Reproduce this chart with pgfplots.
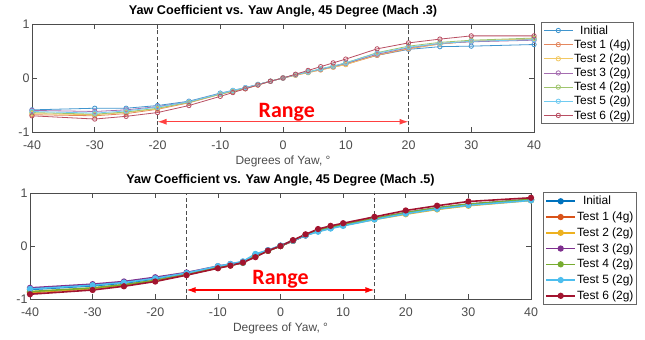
\documentclass[border=0pt]{standalone}
\usepackage{pgfplots}
\usepackage{pgfplotstable}
\pgfplotsset{compat=1.18}
\usetikzlibrary{arrows.meta}
\usepackage{fontspec}
\setmainfont{Liberation Sans}
\newfontfamily\rangefont{Carlito}
\definecolor{c1}{rgb}{0,0.447,0.741}
\definecolor{c2}{rgb}{0.85,0.325,0.098}
\definecolor{c3}{rgb}{0.929,0.694,0.125}
\definecolor{c4}{rgb}{0.494,0.184,0.556}
\definecolor{c5}{rgb}{0.466,0.674,0.188}
\definecolor{c6}{rgb}{0.301,0.745,0.933}
\definecolor{c7}{rgb}{0.635,0.078,0.184}
\definecolor{axgray}{rgb}{0.3,0.3,0.3}

% Mach .3
\pgfplotstableread{
x    i     ta    tb    tc    td    te    tf
-40 -0.59 -0.68 -0.66 -0.60 -0.64 -0.62 -0.70
-30 -0.56 -0.70 -0.68 -0.62 -0.67 -0.65 -0.76
-25 -0.56 -0.66 -0.64 -0.59 -0.63 -0.61 -0.71
-20 -0.51 -0.58 -0.57 -0.53 -0.56 -0.54 -0.64
-15 -0.43 -0.46 -0.45 -0.44 -0.45 -0.44 -0.51
-10 -0.28 -0.30 -0.30 -0.29 -0.30 -0.29 -0.34
-8  -0.23 -0.25 -0.24 -0.24 -0.24 -0.23 -0.27
-6  -0.18 -0.20 -0.19 -0.18 -0.19 -0.18 -0.20
-4  -0.12 -0.13 -0.13 -0.12 -0.12 -0.12 -0.13
-2  -0.06 -0.06 -0.06 -0.06 -0.06 -0.06 -0.06
0    0.00  0.00  0.00  0.00  0.00  0.00  0.00
2    0.06  0.05  0.05  0.06  0.06  0.06  0.07
4    0.11  0.10  0.10  0.11  0.11  0.11  0.14
6    0.16  0.15  0.15  0.16  0.17  0.17  0.21
8    0.21  0.20  0.20  0.21  0.22  0.22  0.28
10   0.27  0.25  0.25  0.27  0.28  0.28  0.35
15   0.42  0.42  0.43  0.44  0.47  0.46  0.54
20   0.53  0.54  0.55  0.56  0.59  0.57  0.65
25   0.58  0.63  0.63  0.64  0.66  0.64  0.72
30   0.59  0.68  0.68  0.67  0.70  0.68  0.78
40   0.62  0.72  0.73  0.70  0.74  0.71  0.78
}\machA

% Mach .5
\pgfplotstableread{
x    i     ta    tb    tc    td    te    tf
-40 -0.82 -0.88 -0.87 -0.79 -0.86 -0.81 -0.91
-30 -0.75 -0.80 -0.80 -0.72 -0.79 -0.74 -0.83
-25 -0.70 -0.74 -0.74 -0.67 -0.73 -0.69 -0.76
-20 -0.62 -0.66 -0.65 -0.59 -0.65 -0.61 -0.67
-15 -0.52 -0.54 -0.54 -0.50 -0.54 -0.51 -0.55
-10 -0.40 -0.41 -0.41 -0.38 -0.41 -0.38 -0.42
-8  -0.36 -0.37 -0.36 -0.34 -0.36 -0.34 -0.37
-6  -0.32 -0.31 -0.31 -0.30 -0.31 -0.29 -0.31
-4  -0.16 -0.19 -0.18 -0.17 -0.19 -0.15 -0.21
-2  -0.09 -0.09 -0.09 -0.08 -0.09 -0.08 -0.09
0    0.00  0.00  0.00  0.00  0.00  0.01  0.00
2    0.10  0.10  0.10  0.10  0.10  0.10  0.11
4    0.20  0.21  0.20  0.20  0.21  0.20  0.22
6    0.28  0.29  0.28  0.29  0.29  0.27  0.32
8    0.34  0.35  0.34  0.35  0.35  0.33  0.38
10   0.39  0.40  0.39  0.40  0.40  0.38  0.43
15   0.51  0.51  0.50  0.52  0.52  0.50  0.55
20   0.62  0.62  0.60  0.63  0.63  0.61  0.67
25   0.70  0.71  0.69  0.72  0.72  0.70  0.76
30   0.77  0.78  0.76  0.79  0.79  0.77  0.84
40   0.87  0.87  0.86  0.88  0.88  0.86  0.91
}\machB

\pgfplotsset{
  myaxis/.style={
    scale only axis,
    xmin=-40, xmax=40, ymin=-1, ymax=1,
    xtick={-40,-30,...,40}, ytick={-1,0,1},
    tick align=inside,
    major tick length=5bp,
    axis line style={draw=axgray, line width=0.6bp},
    every tick/.style={draw=axgray, line width=0.6bp},
    tick label style={font=\fontsize{12.5}{14}\selectfont, text=axgray},
    xticklabel style={yshift=-5bp},
    yticklabel style={xshift=1bp},
    /pgf/number format/assume math mode=true,
    title style={font=\bfseries\fontsize{12.7}{14}\selectfont, yshift=-3bp},
    xlabel style={font=\fontsize{12}{14}\selectfont, text=axgray, yshift=0bp},
    xlabel={Degrees of Yaw, °},
    legend cell align=left,
    legend image code/.code={\draw[mark repeat=2,mark phase=2,##1] plot coordinates {(0bp,0bp) (14.5bp,0bp) (29bp,0bp)};},
  },
}

\begin{document}
\begin{tikzpicture}[x=1bp,y=1bp]
\useasboundingbox (0,0) rectangle (645,339);

% ---------- Top: Mach .3 ----------
\begin{axis}[myaxis,
  at={(32bp,207bp)}, anchor=south west,
  width=502bp, height=108bp,
  title={Yaw Coefficient vs. Yaw Angle, 45 Degree (Mach .3)},
  legend style={at={(1,1)}, anchor=north west, xshift=7bp, yshift=2bp,
    draw=black!60, line width=0.8bp, font=\fontsize{12}{13}\selectfont,
    inner xsep=2bp, inner ysep=1bp,
    nodes={inner ysep=2bp, inner xsep=1bp}},
  every axis plot/.append style={line width=0.8bp, mark=o, mark size=2.2bp, mark options={solid}},
]
\addplot[c1!75!white] table[x=x,y=i]{\machA};
\addlegendentry{\hspace{6bp}Initial}
\addplot[c2!70!white] table[x=x,y=ta]{\machA};
\addlegendentry{Test 1 (4g)}
\addplot[c3!70!white] table[x=x,y=tb]{\machA};
\addlegendentry{Test 2 (2g)}
\addplot[c4!70!white] table[x=x,y=tc]{\machA};
\addlegendentry{Test 3 (2g)}
\addplot[c5!70!white] table[x=x,y=td]{\machA};
\addlegendentry{Test 4 (2g)}
\addplot[c6!80!white] table[x=x,y=te]{\machA};
\addlegendentry{Test 5 (2g)}
\addplot[c7!75!white] table[x=x,y=tf]{\machA};
\addlegendentry{Test 6 (2g)}
\draw[black!70, dashed, dash pattern=on 4bp off 2.5bp, line width=0.7bp] (axis cs:-20,-1) -- (axis cs:-20,1);
\draw[black!70, dashed, dash pattern=on 4bp off 2.5bp, line width=0.7bp] (axis cs:20,-1) -- (axis cs:20,1);
\draw[red!75!white, line width=1.2bp, {Latex[length=9bp,width=6bp]}-{Latex[length=9bp,width=6bp]}] (axis cs:-20,-0.81) -- (axis cs:20,-0.81);
\node[red, font=\rangefont\bfseries\fontsize{22}{24}\selectfont] at (axis cs:0.6,-0.63) {Range};
\end{axis}

% ---------- Bottom: Mach .5 ----------
\begin{axis}[myaxis,
  at={(30bp,40bp)}, anchor=south west,
  width=501bp, height=106bp,
  title={Yaw Coefficient vs. Yaw Angle, 45 Degree (Mach .5)},
  legend style={at={(1,1)}, anchor=north west, xshift=12bp, yshift=1bp,
    draw=black!60, line width=0.8bp, font=\fontsize{12}{13}\selectfont,
    inner xsep=2bp, inner ysep=1bp,
    nodes={inner ysep=2.8bp, inner xsep=1bp}},
  every axis plot/.append style={line width=1.6bp, mark=*, mark size=2.3bp, mark options={solid}},
]
\addplot[c1] table[x=x,y=i]{\machB};
\addlegendentry{\hspace{6bp}Initial}
\addplot[c2] table[x=x,y=ta]{\machB};
\addlegendentry{Test 1 (4g)}
\addplot[c3] table[x=x,y=tb]{\machB};
\addlegendentry{Test 2 (2g)}
\addplot[c4] table[x=x,y=tc]{\machB};
\addlegendentry{Test 3 (2g)}
\addplot[c5] table[x=x,y=td]{\machB};
\addlegendentry{Test 4 (2g)}
\addplot[c6] table[x=x,y=te]{\machB};
\addlegendentry{Test 5 (2g)}
\addplot[c7] table[x=x,y=tf]{\machB};
\addlegendentry{Test 6 (2g)}
\draw[black!70, dashed, dash pattern=on 4bp off 2.5bp, line width=0.7bp] (axis cs:-15,-1) -- (axis cs:-15,1);
\draw[black!70, dashed, dash pattern=on 4bp off 2.5bp, line width=0.7bp] (axis cs:15,-1) -- (axis cs:15,1);
\draw[red, line width=1.2bp, {Latex[length=9bp,width=6bp]}-{Latex[length=9bp,width=6bp]}] (axis cs:-15,-0.83) -- (axis cs:15,-0.83);
\node[red, font=\rangefont\bfseries\fontsize{22}{24}\selectfont] at (axis cs:0,-0.62) {Range};
\end{axis}
\end{tikzpicture}
\end{document}
